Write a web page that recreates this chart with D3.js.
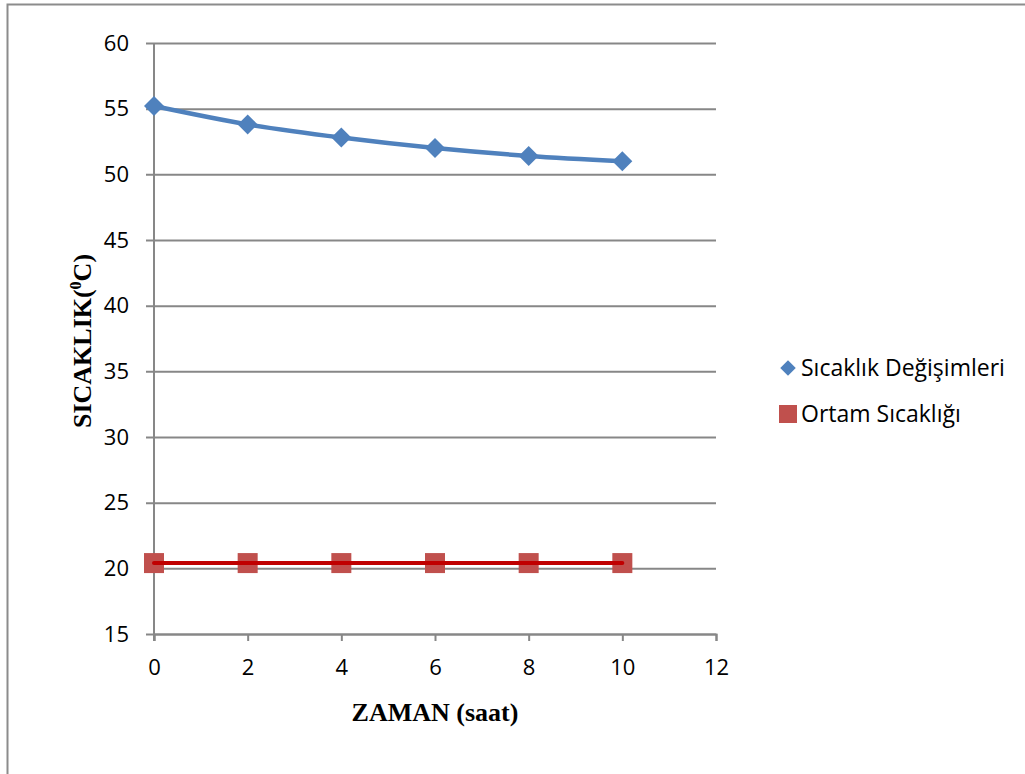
<!DOCTYPE html>
<html>
<head>
<meta charset="utf-8">
<script src="https://cdn.jsdelivr.net/npm/d3@7"></script>
<style>
  body { margin: 0; background: #fff; }
  svg { display: block; }
</style>
</head>
<body>
<svg id="chart" width="1025" height="774"></svg>
<script>
// //////// DATA
const hours = [0, 2, 4, 6, 8, 10];
const sicaklikDegisimleri = [55.2, 53.8, 52.8, 52.0, 51.4, 51.0];
const ortamSicakligi = [20.4, 20.4, 20.4, 20.4, 20.4, 20.4];
const xTicks = [0, 2, 4, 6, 8, 10, 12];
const yTicks = [15, 20, 25, 30, 35, 40, 45, 50, 55, 60];
const seriesNames = ["Sıcaklık Değişimleri", "Ortam Sıcaklığı"];

// //////// CHART
const svg = d3.select("#chart");
const plot = { left: 154, right: 716, top: 43, bottom: 634 };

const x = d3.scaleLinear().domain([0, 12]).range([plot.left, plot.right]);
const y = d3.scaleLinear().domain([15, 60]).range([plot.bottom, plot.top]);

const gridColor = "#878787";
const tickFont = "'Open Sans', 'Noto Sans', sans-serif";

// Outer frame (runs off the right and bottom edges like the original)
svg.append("rect")
  .attr("x", 7.5).attr("y", 4.5)
  .attr("width", 1040).attr("height", 800)
  .attr("fill", "none")
  .attr("stroke", "#8c8c8c")
  .attr("stroke-width", 2);

// Horizontal gridlines + y ticks
const yAxis = d3.axisLeft(y).tickValues(yTicks).tickSize(-(plot.right - plot.left)).tickPadding(16);
const gy = svg.append("g").attr("transform", `translate(${plot.left},0)`).call(yAxis);
gy.select(".domain").remove();
gy.selectAll(".tick line")
  .attr("x1", -8)
  .attr("stroke", gridColor)
  .attr("stroke-width", 2);
gy.selectAll(".tick text")
  .attr("x", -25)
  .attr("font-family", tickFont)
  .attr("font-size", 22)
  .attr("fill", "#000");

// X axis
const xAxis = d3.axisBottom(x).tickValues(xTicks).tickSize(7).tickPadding(18);
const gx = svg.append("g").attr("transform", `translate(0,${plot.bottom})`).call(xAxis);
gx.select(".domain").attr("stroke", gridColor).attr("stroke-width", 2);
gx.selectAll(".tick line").attr("stroke", gridColor).attr("stroke-width", 2);
gx.selectAll(".tick text")
  .attr("font-family", tickFont)
  .attr("font-size", 22)
  .attr("fill", "#000");

// Vertical y axis line
svg.append("line")
  .attr("x1", plot.left).attr("x2", plot.left)
  .attr("y1", plot.top).attr("y2", plot.bottom + 7)
  .attr("stroke", gridColor).attr("stroke-width", 2);

// Series 1 - smoothed line with diamonds
const blue = "#4f81bd";
const line1 = d3.line()
  .x((d, i) => x(hours[i]))
  .y((d) => y(d))
  .curve(d3.curveCatmullRom.alpha(0.5));

svg.append("path")
  .datum(sicaklikDegisimleri)
  .attr("d", line1)
  .attr("fill", "none")
  .attr("stroke", blue)
  .attr("stroke-width", 4.5)
  .attr("stroke-linecap", "round");

svg.append("g")
  .selectAll("path")
  .data(sicaklikDegisimleri)
  .join("path")
  .attr("d", d3.symbol(d3.symbolSquare, 200)())
  .attr("transform", (d, i) => `translate(${x(hours[i])},${y(d)}) rotate(45)`)
  .attr("fill", blue);

// Series 2 - squares with red line on top
const red = "#c0504d";
svg.append("g")
  .selectAll("rect")
  .data(ortamSicakligi)
  .join("rect")
  .attr("x", (d, i) => x(hours[i]) - 10)
  .attr("y", (d) => y(d) - 10)
  .attr("width", 20)
  .attr("height", 20)
  .attr("fill", red);

const line2 = d3.line()
  .x((d, i) => x(hours[i]))
  .y((d) => y(d));

svg.append("path")
  .datum(ortamSicakligi)
  .attr("d", line2)
  .attr("fill", "none")
  .attr("stroke", "#c00000")
  .attr("stroke-width", 4)
  .attr("stroke-linecap", "round");

// Axis titles
svg.append("text")
  .attr("x", 435).attr("y", 721)
  .attr("text-anchor", "middle")
  .attr("font-family", "'Liberation Serif', serif")
  .attr("font-weight", "bold")
  .attr("font-size", 26)
  .text("ZAMAN (saat)");

const yTitle = svg.append("text")
  .attr("transform", "translate(91,341) rotate(-90)")
  .attr("text-anchor", "middle")
  .attr("font-family", "'Liberation Serif', serif")
  .attr("font-weight", "bold")
  .attr("font-size", 26);
yTitle.append("tspan").text("SICAKLIK(");
yTitle.append("tspan").attr("font-size", 16).attr("dy", -10).text("0");
yTitle.append("tspan").attr("dy", 10).text("C)");

// Legend
const legendY = [368, 414];
const legend = svg.append("g").attr("font-family", tickFont).attr("font-size", 23);
legend.append("path")
  .attr("d", d3.symbol(d3.symbolSquare, 120)())
  .attr("transform", `translate(788,${legendY[0]}) rotate(45)`)
  .attr("fill", blue);
legend.append("rect")
  .attr("x", 779).attr("y", legendY[1] - 9).attr("width", 18).attr("height", 18)
  .attr("fill", red);
legend.selectAll("text")
  .data(seriesNames)
  .join("text")
  .attr("x", 801)
  .attr("y", (d, i) => legendY[i] + 8)
  .text((d) => d);
</script>
</body>
</html>
